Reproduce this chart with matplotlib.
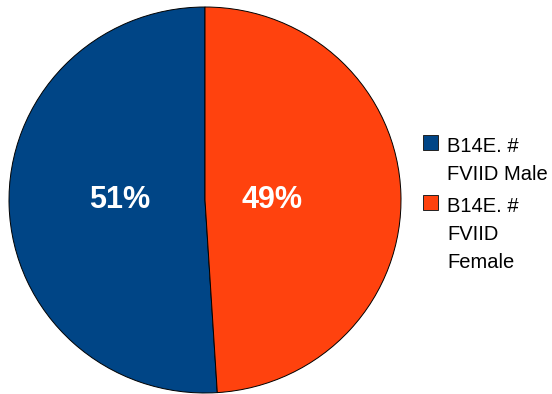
import matplotlib
matplotlib.use("Agg")
import matplotlib.pyplot as plt
from matplotlib.patches import Rectangle

plt.rcParams['font.family'] = ['Liberation Sans', 'DejaVu Sans']

# share of FVIID patients by sex
labels = ["B14E. #\nFVIID Male", "B14E. #\nFVIID\nFemale"]
shares = [51, 49]
colors = ["#004586", "#ff420e"]

W, H = 552, 394
fig = plt.figure(figsize=(W / 100, H / 100), dpi=100)

# axes holding the pie, centre at (205, 200) px from top-left
rx, ry = 196, 193
cx, cy = 205, 200
ax = fig.add_axes([(cx - rx) / W, (H - cy - ry) / H, 2 * rx / W, 2 * ry / H])

wedges, texts, autotexts = ax.pie(
    shares, colors=colors, startangle=90, counterclock=True,
    autopct="%d%%", radius=1,
    wedgeprops=dict(edgecolor="black", linewidth=0.7),
    textprops=dict(color="white", fontsize=22, fontweight="bold"),
)
for w in wedges:
    w.set_clip_on(False)

# label placement inside each slice
label_pos = [(-0.434, -0.041), (0.344, -0.041)]
for t, (x, y) in zip(autotexts, label_pos):
    t.set_position((x, y))
    t.set_va("baseline")
    t.set_ha("center")

ax.set_xlim(-1, 1)
ax.set_ylim(-1, 1)
ax.set_aspect("auto")
ax.axis("off")

# legend drawn by hand: square swatch + wrapped label lines
sq_x, sq_size = 423, 15
text_x = 447
line_step = 27.8
entry_tops = [135, 195]
first_baselines = [152.3, 212]
for lab, col, top, base in zip(labels, colors, entry_tops, first_baselines):
    fig.add_artist(Rectangle((sq_x / W, (H - top - sq_size) / H), sq_size / W, sq_size / H,
                             transform=fig.transFigure, facecolor=col,
                             edgecolor="#222222", linewidth=0.7))
    for i, line in enumerate(lab.split("\n")):
        fig.text(text_x / W, (H - (base + i * line_step)) / H, line,
                 fontsize=14.5, va="baseline", ha="left", color="black")

fig.savefig("out.png", dpi=100, facecolor="white")
